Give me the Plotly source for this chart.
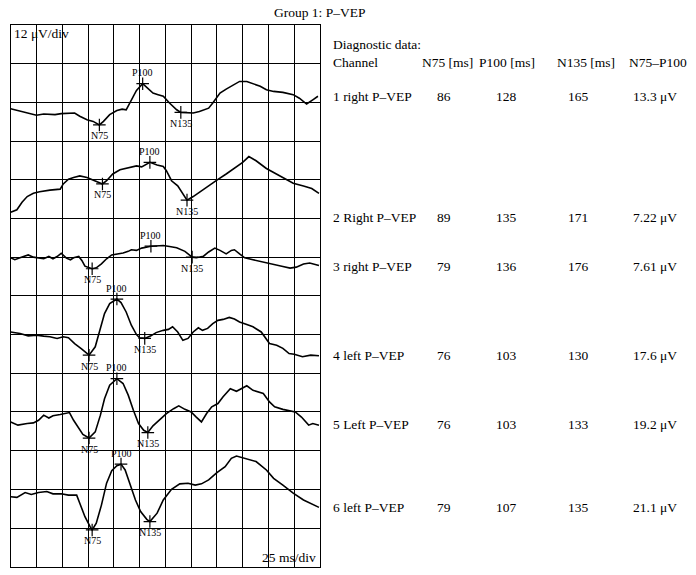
import numpy as np
import plotly.graph_objects as go

FONT = "Liberation Serif, Times New Roman, serif"
W, H = 696, 575

# Each trace: latency (ms) and amplitude (uV, relative to the channel baseline).
ch1_t = [0, 9, 22, 25, 32, 38, 43, 49, 58, 62, 67, 74, 80, 86, 90, 96, 103, 108, 112, 117, 122,
         128, 132, 138, 143, 148, 154, 161, 165, 171, 177, 183, 192, 196, 203, 209, 216, 222,
         229, 235, 242, 248, 255, 264, 274, 280, 287, 293, 298]
ch1_v = [-2.0, -2.8, -3.8, -4.0, -3.6, -3.6, -3.8, -3.5, -3.4, -3.3, -4.3, -5.4, -5.9, -7.0,
         -5.9, -3.8, -2.5, -2.1, -2.3, 0.8, 3.7, 5.8, 4.7, 2.9, 2.4, 1.9, -0.2, -2.3, -3.1,
         -3.3, -3.3, -2.8, -1.8, -0.2, 2.9, 4.1, 5.5, 6.5, 6.5, 5.8, 5.0, 3.9, 3.4, 3.1, 2.4,
         1.3, -0.5, 0.8, 1.9]

ch2_t = [0, 6, 11, 16, 22, 28, 38, 45, 48, 51, 56, 61, 67, 74, 82, 89, 93, 99, 106, 116, 122,
         127, 135, 142, 148, 151, 156, 162, 167, 171, 177, 187, 200, 209, 219, 225, 231, 238,
         248, 258, 267, 274, 284, 292, 299]
ch2_v = [1.9, 2.7, 5.0, 6.8, 7.8, 8.3, 8.8, 9.1, 9.1, 10.7, 12.2, 12.7, 13.2, 12.7, 11.7, 10.7,
         11.7, 13.8, 15.1, 15.8, 16.3, 16.0, 17.4, 16.6, 16.1, 14.8, 11.7, 10.1, 7.6, 5.7, 6.8,
         8.9, 11.9, 13.8, 16.1, 17.4, 19.2, 17.9, 15.5, 13.8, 12.2, 10.9, 10.1, 9.3, 7.8]

ch3_t = [0, 4, 9, 14, 17, 22, 27, 32, 37, 41, 45, 49, 54, 58, 61, 66, 69, 72, 79, 83, 88, 93,
         98, 104, 109, 114, 117, 122, 127, 136, 142, 148, 154, 161, 169, 176, 180, 187, 192,
         198, 203, 209, 214, 217, 222, 227, 235, 245, 255, 264, 271, 277, 284, 290, 299]
ch3_v = [-0.2, -0.8, -0.2, 0.3, 0.7, 0.0, -0.2, -0.5, 0.2, -0.5, 0.2, 1.2, -0.3, -0.8, -0.2,
         0.2, -1.0, -2.8, -3.6, -3.3, -2.1, -0.5, 0.7, 1.0, 1.3, 1.8, 2.3, 2.1, 2.8, 3.4, 3.6,
         3.6, 3.3, 2.9, 1.8, 0.0, -0.2, 0.3, 1.6, 2.8, 2.1, 1.0, 2.1, 2.3, 1.0, -0.2, -0.8,
         -1.6, -2.4, -2.9, -3.4, -3.1, -2.1, -1.8, -2.6]

ch4_t = [0, 9, 17, 25, 32, 38, 45, 51, 56, 62, 69, 76, 82, 87, 91, 96, 103, 107, 112, 117, 122,
         125, 130, 136, 141, 148, 153, 157, 162, 167, 172, 177, 182, 186, 191, 196, 201, 206,
         212, 217, 222, 229, 235, 243, 251, 258, 264, 270, 275, 283, 291, 299]
ch4_v = [0.8, 0.3, -0.4, -0.2, -0.5, -0.7, -1.2, -0.7, -1.0, -2.8, -4.5, -6.4, -3.8, 1.9, 6.5,
         9.6, 11.0, 9.9, 7.0, 2.9, 0.0, -1.0, -1.2, -0.4, 0.6, 1.3, 1.6, 2.4, 0.8, -1.8, -1.2,
         0.8, 2.1, 1.3, 1.9, 3.4, 4.4, 4.7, 5.3, 4.8, 3.9, 3.1, 2.4, 0.8, -2.8, -3.3, -4.3,
         -5.9, -6.1, -6.9, -6.4, -6.6]

ch5_t = [0, 7, 16, 22, 27, 32, 37, 41, 48, 53, 57, 61, 66, 70, 76, 82, 87, 91, 96, 103, 109,
         114, 119, 124, 129, 133, 138, 145, 151, 158, 163, 169, 175, 180, 185, 190, 195, 201,
         206, 213, 219, 229, 235, 245, 251, 256, 264, 276, 282, 289, 293, 299]
ch5_v = [-3.1, -4.1, -3.6, -3.4, -2.6, -1.0, -1.9, -1.2, -0.8, -0.5, -0.2, -2.6, -5.2, -7.0,
         -8.1, -6.2, -1.0, 4.1, 8.3, 10.3, 8.8, 5.2, 0.5, -3.6, -5.7, -6.4, -4.3, -2.3, -0.5,
         1.0, 1.9, 0.8, 0.0, -1.6, -3.1, -0.5, 1.6, 2.6, 4.7, 7.2, 6.4, 8.1, 6.7, 5.7, 3.1, 1.6,
         0.8, 0.0, -1.6, -4.1, -3.6, -4.1]

ch6_t = [0, 6, 14, 20, 27, 35, 41, 49, 56, 64, 67, 72, 77, 79, 83, 88, 93, 98, 103, 107, 111,
         116, 121, 126, 132, 135, 142, 148, 156, 164, 172, 179, 185, 192, 200, 208, 214, 219,
         227, 238, 248, 255, 264, 274, 284, 292, 299]
ch6_v = [-2.3, -2.5, -1.0, -1.6, -1.0, -0.7, -1.4, -1.4, -1.8, -1.8, -4.3, -8.5, -11.6, -12.6,
         -10.5, -4.9, 1.9, 5.8, 7.3, 7.8, 6.0, 1.3, -3.3, -6.9, -9.3, -10.0, -7.4, -3.3, 0.0,
         1.7, 1.9, 1.3, 1.7, 2.9, 5.2, 7.0, 9.6, 10.3, 9.6, 8.6, 6.0, 3.4, 1.3, -1.2, -3.3,
         -4.5, -5.6]

CHANNELS = ["1 right P\u2013VEP", "2 Right P\u2013VEP", "3 right P\u2013VEP",
            "4 left P\u2013VEP", "5 Left P\u2013VEP", "6 left P\u2013VEP"]
N75 = [86, 89, 79, 76, 76, 79]
P100 = [128, 135, 136, 103, 103, 107]
N135 = [165, 171, 176, 130, 133, 135]
AMP = [13.3, 7.22, 7.61, 17.6, 19.2, 21.1]

TRACES = [(ch1_t, ch1_v), (ch2_t, ch2_v), (ch3_t, ch3_v),
          (ch4_t, ch4_v), (ch5_t, ch5_v), (ch6_t, ch6_v)]
BASELINE = [144, 108, 96, 72, 48, 24]   # where each channel sits on the 12 uV grid
ROW_Y = [97, 217, 266, 355, 424, 507]   # pixel rows of the table on the right


def py(pix):
    return 1 - pix / H


def px(pix):
    return pix / W


fig = go.Figure()
annotations = []
for i, (t, v) in enumerate(TRACES):
    base = BASELINE[i]
    fig.add_trace(go.Scatter(x=t, y=[base + a for a in v], mode="lines",
                             line=dict(color="black", width=1.6), hoverinfo="skip"))
    peaks = [("N75", N75[i], -11), ("P100", P100[i], 11), ("N135", N135[i], -11)]
    xs = [lat for _, lat, _ in peaks]
    ys = [base + float(np.interp(lat, t, v)) for _, lat, _ in peaks]
    fig.add_trace(go.Scatter(x=xs, y=ys, mode="markers", hoverinfo="skip",
                             marker=dict(symbol="cross-thin", size=9,
                                         line=dict(color="black", width=1.2))))
    for (name, lat, shift), y in zip(peaks, ys):
        annotations.append(dict(x=lat, y=y, xref="x", yref="y", text=name, showarrow=False,
                                yshift=shift, font=dict(size=10, color="black", family=FONT)))

# table on the right
annotations += [
    dict(x=px(331), y=py(44), text="Diagnostic data:", xanchor="left"),
    dict(x=px(331), y=py(62), text="Channel", xanchor="left"),
    dict(x=px(420), y=py(62), text="N75 [ms]", xanchor="left"),
    dict(x=px(477), y=py(62), text="P100 [ms]", xanchor="left"),
    dict(x=px(555), y=py(62), text="N135 [ms]", xanchor="left"),
    dict(x=px(627), y=py(62), text="N75\u2013P100", xanchor="left"),
    dict(x=px(272), y=py(12), text="Group 1: P\u2013VEP", xanchor="left"),
    dict(x=px(12), y=py(33), text="12 \u03bcV/div", xanchor="left"),
    dict(x=px(318), y=py(557), text="25 ms/div", xanchor="right"),
]
for i, name in enumerate(CHANNELS):
    y = py(ROW_Y[i])
    annotations += [
        dict(x=px(331), y=y, text=name, xanchor="left"),
        dict(x=px(444), y=y, text=str(N75[i])),
        dict(x=px(506), y=y, text=str(P100[i])),
        dict(x=px(578), y=y, text=str(N135[i])),
        dict(x=px(679), y=y, text=f"{AMP[i]:g} \u03bcV", xanchor="right"),
    ]
for a in annotations:
    a.setdefault("xref", "paper")
    a.setdefault("yref", "paper")
    a.setdefault("xanchor", "center")
    a.setdefault("yanchor", "middle")
    a.setdefault("showarrow", False)
    a.setdefault("font", dict(size=13.5, color="black", family=FONT))

axis = dict(showgrid=True, gridcolor="black", gridwidth=1, zeroline=False,
            showticklabels=False, ticks="", showline=True, mirror=True,
            linecolor="black", linewidth=1)
fig.update_layout(
    width=W, height=H, showlegend=False,
    margin=dict(l=0, r=0, t=0, b=0),
    paper_bgcolor="white", plot_bgcolor="white",
    xaxis=dict(axis, range=[0, 300], dtick=25, domain=[px(10.7), px(320)]),
    yaxis=dict(axis, range=[0, 168], dtick=12, domain=[py(566.7), py(25)]),
    annotations=annotations,
)
# the page's default body margin would push the figure 8px off the window
fig.write_html("out.html", config={"displayModeBar": False},
               post_script="document.body.style.margin='0';")
